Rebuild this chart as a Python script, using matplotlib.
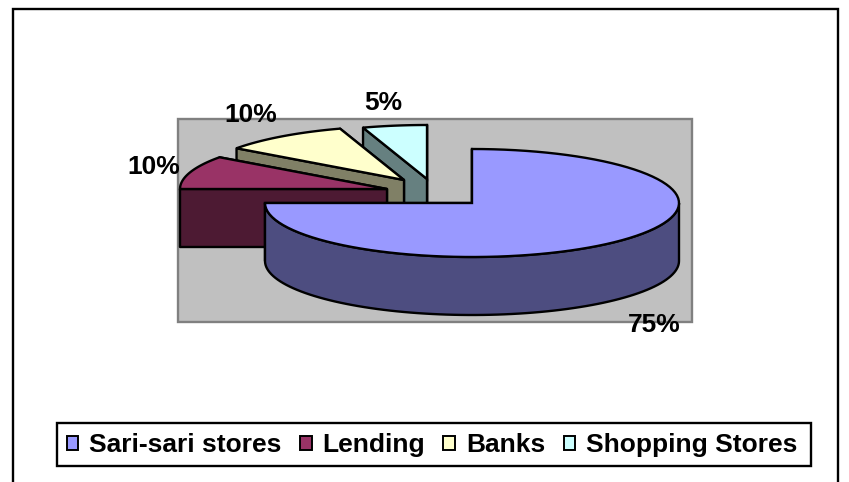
import matplotlib
matplotlib.use('Agg')
import matplotlib.pyplot as plt
from matplotlib.patches import Patch, Polygon, Rectangle
import numpy as np

matplotlib.rcParams['font.family'] = ['Liberation Sans', 'DejaVu Sans']

labels = ['Sari-sari stores', 'Lending', 'Banks', 'Shopping Stores']
shares = [75, 10, 10, 5]
share_text = ['75%', '10%', '10%', '5%']

top_colors = ['#9999FF', '#993366', '#FFFFCC', '#CCFFFF']
side_colors = ['#4D4D80', '#4D1A33', '#808066', '#668080']

# pie geometry in pixels, the axes below is 1:1 with the image
centers = [(472, 203), (387, 189), (404, 180), (427, 179)]
label_pos = [(654, 324.5), (154, 166.5), (251, 115.5), (383, 102.5)]
rx, ry, depth = 207, 54, 58
lw = 1.7

fig = plt.figure(figsize=(8.49, 4.82), dpi=100, facecolor='white')
ax = fig.add_axes([0, 0, 1, 1])
ax.set_xlim(0, 849)
ax.set_ylim(482, 0)
ax.axis('off')

# chart border and plot area
ax.add_patch(Rectangle((13, 9), 825, 490, fc='white', ec='black', lw=lw))
ax.add_patch(Rectangle((178, 119), 514, 203, fc='#C0C0C0', ec='#808080', lw=lw))


def ring(cx, cy, a0, a1, dy=0):
    t = np.radians(np.linspace(a0, a1, 90))
    return np.column_stack([cx + rx * np.cos(t), cy - ry * np.sin(t) + dy])


def radial_face(cx, cy, a, color):
    p = ring(cx, cy, a, a)[0]
    pts = [(cx, cy), p, p + (0, depth), (cx, cy + depth)]
    ax.add_patch(Polygon(pts, fc=color, ec='black', lw=lw, joinstyle='round'))


# start at 12 o'clock and go clockwise, draw the big slice last as it is in front
ends = 90 - np.cumsum(shares) * 3.6
starts = np.r_[90, ends[:-1]]
for i in [3, 2, 1, 0]:
    cx, cy = centers[i]
    a0, a1 = starts[i], ends[i]
    radial_face(cx, cy, a1, side_colors[i])
    radial_face(cx, cy, a0, side_colors[i])
    # outer wall, only the front half of the ellipse can be seen
    if a0 > -180 and a1 < 0:
        f0, f1 = min(a0, 0), max(a1, -180)
        wall = np.vstack([ring(cx, cy, f0, f1), ring(cx, cy, f1, f0, depth)])
        ax.add_patch(Polygon(wall, fc=side_colors[i], ec='black', lw=lw))
    top = np.vstack([[(cx, cy)], ring(cx, cy, a0, a1)])
    ax.add_patch(Polygon(top, fc=top_colors[i], ec='black', lw=lw))

for txt, (x, y) in zip(share_text, label_pos):
    ax.text(x, y, txt, ha='center', va='center', fontsize=19, fontweight='bold')

# legend frame drawn by hand, the legend's own pad can't be wider than tall
ax.add_patch(Rectangle((57, 423), 754, 43, fc='white', ec='black', lw=lw))
handles = [Patch(fc=c, ec='black', lw=1.4) for c in top_colors]
leg = ax.legend(handles, labels, ncol=4, loc='center', bbox_to_anchor=(432, 445),
                bbox_transform=ax.transData, frameon=False,
                prop={'size': 19, 'weight': 'bold'},
                handlelength=0.45, handleheight=0.45, handletextpad=0.4,
                columnspacing=0.7, borderpad=0.35, borderaxespad=0)

plt.savefig('out.png', dpi=100, facecolor='white')
plt.close()
